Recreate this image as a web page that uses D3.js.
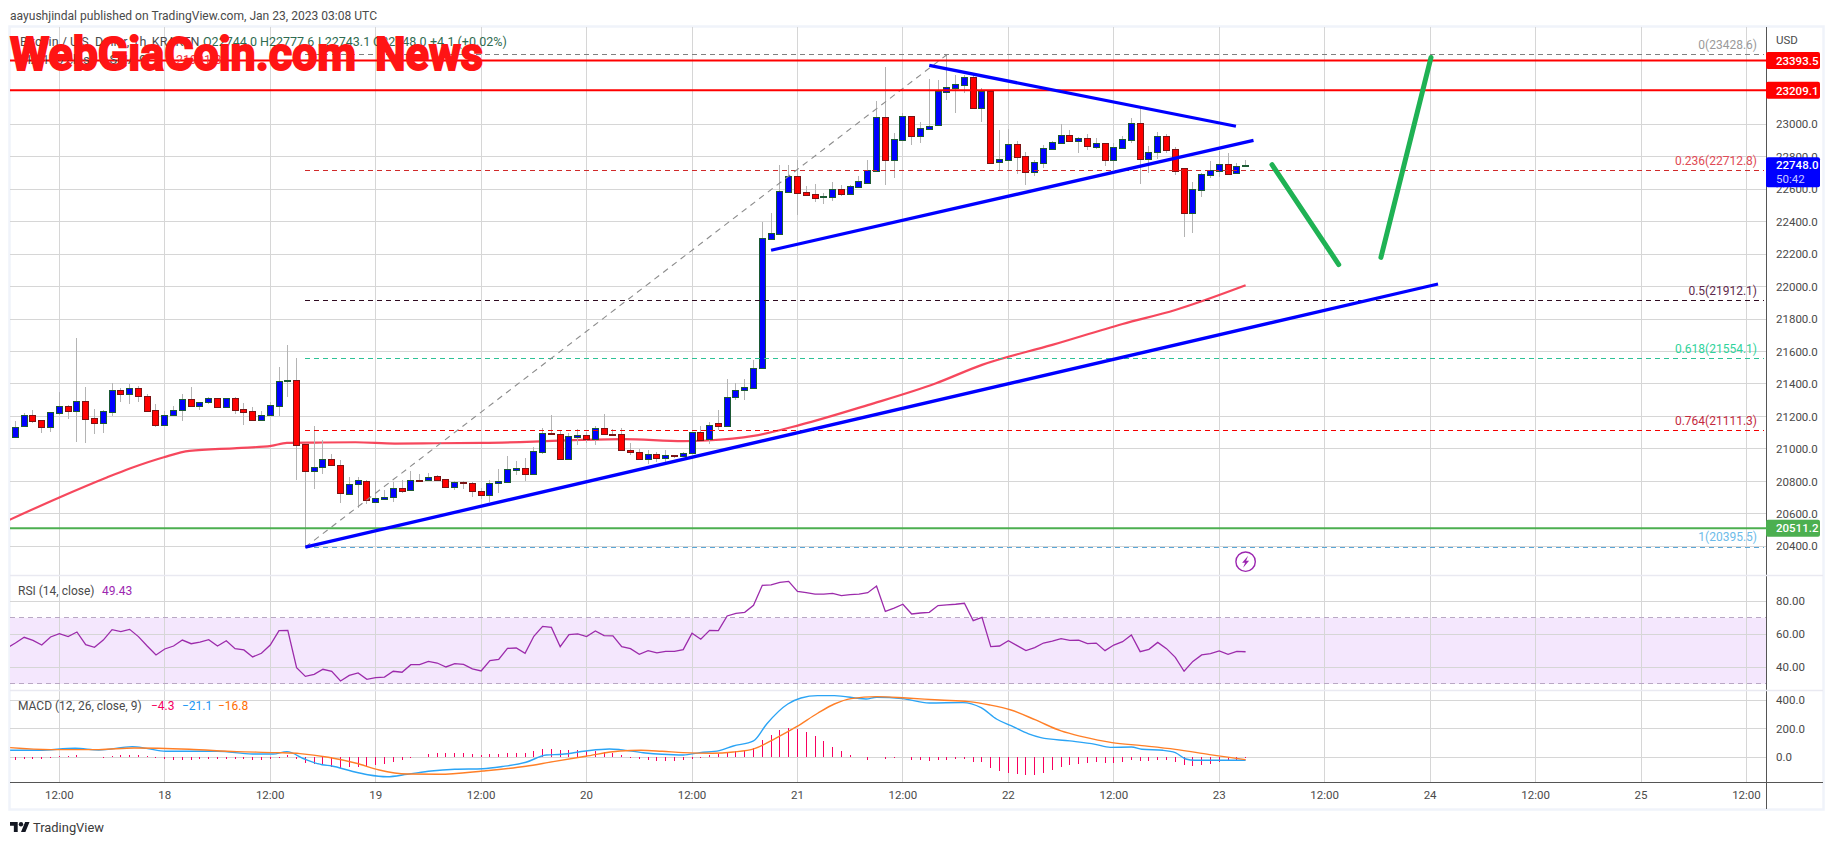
<!DOCTYPE html>
<html><head><meta charset="utf-8">
<script src="https://cdnjs.cloudflare.com/ajax/libs/d3/7.8.5/d3.min.js"></script>
<style>html,body{margin:0;padding:0;background:#fff;overflow:hidden}svg{display:block}text{font-family:Roboto,"Noto Sans",sans-serif}</style>
</head><body><svg id="c" width="1834" height="845"></svg>
<script>
// hourly candles: index 0 = Jan 17 07:00, index 140 = Jan 23 03:00
const opens=[21072,21140,21208,21177,21132,21224,21263,21236,21294,21189,21162,21230,21362,21341,21374,21325,21238,21150,21206,21242,21306,21267,21286,21312,21261,21312,21244,21232,21177,21206,21267,21417,21423,21029,20861,20887,20937,20900,20721,20783,20801,20672,20694,20701,20758,20746,20809,20807,20832,20813,20768,20795,20789,20740,20719,20787,20799,20873,20881,20844,20980,21097,21091,20935,21076,21085,21064,21128,21091,21091,20994,20980,20935,20968,20947,20963,20959,20972,21103,21060,21158,21144,21317,21360,21378,21497,22292,22327,22585,22680,22581,22569,22554,22554,22600,22573,22616,22641,22710,23043,22782,22905,23049,22930,22973,22998,23201,23226,23244,23291,23102,23205,22770,22782,22877,22803,22704,22760,22850,22887,22932,22899,22914,22862,22883,22782,22856,22905,23006,22788,22827,22926,22846,22729,22456,22597,22690,22715,22753,22702,22744];
const highs=[21173,21220,21240,21177,21230,21351,21271,21684,21382,21245,21240,21407,21374,21398,21388,21337,21275,21236,21265,21339,21382,21292,21320,21316,21316,21320,21284,21259,21236,21290,21503,21641,21561,21029,21142,21056,20969,20930,20830,20830,20807,20803,20748,20795,20807,20865,20846,20852,20840,20816,20805,20801,20795,20758,20809,20877,20957,20924,20945,21009,21130,21210,21113,21097,21124,21107,21142,21216,21124,21130,21037,21000,20996,20980,20996,20963,20980,21103,21142,21167,21241,21432,21407,21432,21549,22400,22454,22749,22749,22780,22620,22632,22575,22643,22624,22624,22684,22780,23143,23353,22946,23072,23053,23012,23277,23273,23428.6,23304,23304,23304,23221,23205,22965,22971,22895,22829,22780,22872,22895,23000,22965,22924,22940,22914,22887,22883,22928,23037,23098,22866,22953,22940,22858,22729,22645,22698,22774,22838,22821,22762,22777.6];
const lows=[21072,21138,21162,21101,21107,21210,21187,21045,21039,21089,21095,21203,21292,21279,21286,21226,21132,21146,21206,21175,21265,21242,21277,21257,21257,21218,21150,21173,21173,21203,21203,21320,20809,20395.5,20756,20848,20896,20664,20721,20635,20658,20670,20686,20670,20731,20744,20803,20803,20809,20762,20744,20754,20705,20690,20670,20731,20795,20838,20803,20840,20968,21085,20935,20933,21027,21035,21025,21089,21087,20996,20963,20933,20908,20918,20922,20943,20953,20968,21050,21033,21117,21142,21302,21302,21378,21497,22292,22327,22575,22441,22561,22524,22511,22528,22561,22571,22616,22641,22710,22626,22669,22905,22873,22887,22973,22998,23150,23072,23195,23102,23016,22760,22710,22718,22696,22628,22684,22733,22846,22887,22893,22825,22842,22846,22745,22718,22856,22887,22634,22702,22788,22825,22688,22308,22333,22554,22671,22677,22696,22702,22743.1];
const closes=[21138,21208,21175,21132,21226,21263,21236,21294,21187,21162,21232,21362,21341,21374,21323,21236,21150,21208,21238,21306,21267,21288,21312,21261,21312,21242,21230,21177,21208,21269,21417,21423,21023,20861,20887,20937,20900,20727,20783,20807,20684,20696,20703,20758,20738,20807,20805,20830,20811,20768,20795,20789,20738,20719,20789,20801,20875,20881,20844,20986,21097,21089,20935,21078,21087,21064,21128,21089,21087,20996,20984,20935,20968,20947,20961,20959,20974,21103,21056,21146,21144,21319,21362,21380,21497,22298,22329,22587,22680,22579,22567,22548,22558,22600,22573,22618,22649,22716,23043,22782,22907,23049,22930,22975,22987,23205,23228,23246,23291,23102,23205,22760,22784,22877,22801,22704,22766,22852,22889,22932,22899,22914,22864,22883,22782,22858,22907,23006,22788,22827,22926,22844,22714,22456,22600,22692,22717,22753,22696,22741,22748];

const priceTicks=[23000,22800,22600,22400,22200,22000,21800,21600,21400,21200,21000,20800,20600,20400];
const timeTickHours=[5,17,29,41,53,65,77,89,101,113,125,137,149,161,173,185,197];
const timeTickLabels=["12:00","18","12:00","19","12:00","20","12:00","21","12:00","22","12:00","23","12:00","24","12:00","25","12:00"];

const resistanceLevels=[23393.5,23209.1];
const supportLevel=20511.2;
const lastPrice=22748.0;
const fibRatios=["0","0.236","0.5","0.618","0.764","1"];
const fibPrices=[23428.6,22712.8,21912.1,21554.1,21111.3,20395.5];

const maHours=[-1,5,10.4,13.1,16.9,19.8,25.2,29.1,30.9,34.2,38.7,43.2,47.7,53.2,59,63.5,69.2,76,78.7,84,89.3,97,104.7,110,118,126,132,140];
const maValues=[20555,20701,20824,20881,20949,20988,21005,21019,21037,21039,21041,21033,21035,21037,21045,21054,21060,21048,21052,21080,21148,21270,21403,21518,21641,21770,21856,22008];

// [hour, price] ends of the drawn lines
const fibDiagonalHours=[33,106], fibDiagonalPrices=[20395.5,23428.6];
const longTrendHours=[33,161.9], longTrendPrices=[20395.5,22016];
const lowerTrendHours=[86,140.9], lowerTrendPrices=[22224,22901];
const upperTrendHours=[104,138.9], upperTrendPrices=[23363,22988];
const arrowDownHours=[143,150.6], arrowDownPrices=[22751,22136];
const arrowUpHours=[155.4,161.1], arrowUpPrices=[22180,23412];

// RSI: first value is the hour before the first candle
const rsiValues=[51.5,54.7,58.2,56.3,53.5,58.4,60.4,58.6,61.4,53.7,52.1,56.5,62.8,61.6,63.0,58.6,52.9,47.5,51.1,52.9,56.5,54.3,55.3,56.7,52.9,56.1,51.3,50.5,46.3,48.5,53.5,62.2,62.4,39.8,34.5,35.7,38.8,37.6,31.7,35.1,36.6,32.7,33.7,34.1,37.6,37.0,41.6,41.6,43.6,42.6,40.2,42.2,41.8,39.0,37.8,44.0,44.8,51.5,51.7,48.5,58.8,64.8,64.2,52.5,59.8,60.2,58.6,62.0,59.2,59.0,52.5,51.3,47.9,50.1,48.7,49.7,49.7,50.7,60.6,57.0,62.4,62.2,71.1,72.7,73.3,77.6,89.7,89.9,91.5,92.1,86.0,85.2,84.4,84.4,84.8,83.4,84.0,84.4,85.2,89.3,73.9,75.9,78.2,72.3,72.9,73.3,77.4,77.8,78.2,78.8,68.3,70.3,52.5,52.9,56.1,53.1,50.1,51.9,54.7,55.9,57.4,56.3,56.5,54.3,54.7,50.1,53.5,55.5,59.6,49.5,50.9,55.1,51.3,46.0,37.6,43.6,47.5,48.3,49.9,47.9,49.7,49.43];
const rsiTicks=[80,60,40];
const rsiBand=[70,30];

const histValues=[-19,-9,-9,-12,-2,12,9,16,5,2,-2,9,16,16,16,9,-7,-12,-19,-19,-19,-12,-12,-9,-9,-12,-14,-19,-19,-14,-2,16,-9,-37,-49,-56,-65,-75,-70,-68,-61,-54,-47,-33,-19,-2,5,26,30,30,30,28,23,14,21,23,30,30,30,44,58,58,51,49,49,47,42,40,33,14,-5,-12,-19,-26,-26,-26,-19,-12,-2,16,23,37,42,47,63,122,157,192,204,197,178,152,115,70,44,16,2,-19,2,-9,-2,1,-19,-19,-26,-19,-19,-14,-12,-33,-33,-75,-96,-112,-115,-124,-124,-108,-89,-65,-51,-44,-42,-33,-42,-40,-33,-19,-26,-28,-19,-19,-33,-51,-61,-51,-44,-35,-26,-19,-4.3];
const macdHours=[-0.6,2.7,6.8,9.5,13.3,14.9,17.1,23,27,29.3,30.9,32.9,34.9,36,38.3,40.1,42.3,44.6,47.3,50,53.2,55.4,58.1,60.4,62.2,64.9,67.6,68.8,71.7,73.6,76,77.9,80.1,81.7,84,85.5,87.9,89.4,91.3,93.2,96.8,98,100.9,104,107.8,109.9,111.7,113.3,115.3,116.7,120,122.9,124.6,127,128.2,130.6,132,133.2,134.2,137.3,140];
const macdValues=[49,49,63,51,75,63,42,42,23,23,40,-12,-52,-61,-98,-122,-136,-119,-96,-84,-80,-65,-35,16,21,44,58,54,30,21,16,33,47,79,115,234,374,416,433,433,409,421,412,381,384,348,267,222,164,138,115,91,70,72,56,49,33,-12,-21,-21,-21.1];
const signalHours=[-0.6,4,9.5,13.5,19.8,25.2,29.7,32.4,35.6,38.8,41.4,44.6,48.2,53.2,58.1,61.2,64.9,68.8,71.2,73.6,76,79.3,81.7,84.1,86.5,88.9,91.3,93.2,95.1,98,101.4,105.2,108.5,110.9,113.3,116.1,119,121.4,124.8,128.2,132,135.9,140];
const signalValues=[68,54,54,65,56,40,33,26,0,-42,-89,-117,-119,-96,-63,-30,7,44,49,42,33,28,37,61,133,215,309,374,412,426,416,402,391,367,332,262,185,145,103,82,56,19,-16.8];
const macdTicks=[400,200,0];

const svg=d3.select("#c");
const L=10,AX=1766,RIGHT=1823,TOP=27,MAIN_B=575,RSI_B=690,MACD_B=782,BOT=809;
const C={grid:"#d6d6d6",band:"#f0f3fa",text:"#4a4a4a",up:"#0000ff",upB:"#1c5a34",dn:"#ff0000",dnB:"#7a1414",wick:"#b4b4b4"};

const x=d3.scaleLinear().domain([0,140]).range([15.4,1245.6]);
const yP=d3.scaleLinear().domain([23000,20400]).range([124.3,546.3]);
const yR=d3.scaleLinear().domain([80,40]).range([601.3,667.3]);
const yM=d3.scaleLinear().domain([400,0]).range([700.3,757.3]);
const snap=v=>Math.round(v-0.5)+0.5;

svg.append("rect").attr("width",1834).attr("height",845).attr("fill","#fff");
// frame
svg.append("rect").attr("x",9.5).attr("y",26.5).attr("width",1814).attr("height",783).attr("fill","none").attr("stroke",C.band).attr("stroke-width",2.5);

// RSI band
svg.append("rect").attr("x",L).attr("y",yR(rsiBand[0])).attr("width",AX-L).attr("height",yR(rsiBand[1])-yR(rsiBand[0])).attr("fill","#f4e7fd");

// grids
const grid=svg.append("g").attr("stroke",C.grid).attr("stroke-width",1).attr("shape-rendering","crispEdges");
grid.selectAll(".v").data(timeTickHours).join("line").attr("x1",d=>snap(x(d))).attr("x2",d=>snap(x(d))).attr("y1",TOP).attr("y2",MACD_B);
const hline=(sel,ticks,sc)=>sel.append("g").selectAll("line").data(ticks).join("line").attr("x1",L).attr("x2",AX).attr("y1",d=>snap(sc(d))).attr("y2",d=>snap(sc(d)));
hline(grid,priceTicks,yP);hline(grid,rsiTicks,yR);hline(grid,macdTicks,yM);

// plot clip
svg.append("clipPath").attr("id","pl").append("rect").attr("x",L).attr("y",TOP).attr("width",AX-L).attr("height",MACD_B-TOP);

const plot=svg.append("g").attr("clip-path","url(#pl)");
const idx=d3.range(opens.length);
const lineOf=(xs,ys,sc,curve)=>d3.line().x((d,i)=>x(xs[i])).y((d,i)=>sc(ys[i])).curve(curve||d3.curveLinear)(xs);

// MA
plot.append("path").attr("d",lineOf(maHours,maValues,yP,d3.curveMonotoneX)).attr("fill","none").attr("stroke","#f5384f").attr("stroke-width",2.2).attr("stroke-opacity",.92);

// candles
const cg=plot.append("g");
cg.append("g").attr("stroke",C.wick).attr("stroke-width",1).attr("shape-rendering","crispEdges").selectAll("line").data(idx).join("line")
 .attr("x1",i=>snap(x(i))).attr("x2",i=>snap(x(i))).attr("y1",i=>yP(highs[i])).attr("y2",i=>yP(lows[i]));
cg.append("g").attr("shape-rendering","crispEdges").selectAll("rect").data(idx).join("rect")
 .attr("x",i=>Math.round(x(i)-0.5)-3+0.5).attr("width",6)
 .attr("y",i=>Math.round(yP(Math.max(opens[i],closes[i])))+0.5)
 .attr("height",i=>Math.max(1,Math.round(yP(Math.min(opens[i],closes[i])))-Math.round(yP(Math.max(opens[i],closes[i])))))
 .attr("fill",i=>closes[i]>=opens[i]?C.up:C.dn)
 .attr("stroke",i=>closes[i]>=opens[i]?C.upB:C.dnB).attr("stroke-width",1);

// fib levels
const fibLine=["#808080","#d02a2a","#2f0a20","#2ec296","#f40000","#5ba6d6"];
const fibText=["#9a9a9a","#e04a54","#5f2a4c","#2fd39b","#c42a3e","#6dbbe9"];
const FX1=33,FX2=199;
plot.append("g").selectAll("line").data(fibPrices).join("line").attr("x1",x(FX1)).attr("x2",x(FX2))
 .attr("y1",d=>snap(yP(d))).attr("y2",d=>snap(yP(d))).attr("stroke",(d,i)=>fibLine[i]).attr("stroke-width",1).attr("stroke-dasharray","5 4").attr("shape-rendering","crispEdges");
plot.append("path").attr("d",lineOf(fibDiagonalHours,fibDiagonalPrices,yP)).attr("fill","none").attr("stroke","#8c8c8c").attr("stroke-width",1.1).attr("stroke-dasharray","6 5");
svg.append("g").selectAll("text").data(fibPrices).join("text").attr("x",1757).attr("y",d=>yP(d)-6).attr("text-anchor","end")
 .attr("font-size",12).attr("fill",(d,i)=>fibText[i]).text((d,i)=>`${fibRatios[i]}(${d.toFixed(1)})`);

// horizontal levels
plot.append("g").selectAll("line").data(resistanceLevels).join("line").attr("x1",L).attr("x2",AX).attr("y1",d=>yP(d)).attr("y2",d=>yP(d)).attr("stroke","#ff0000").attr("stroke-width",2);
plot.append("line").attr("x1",L).attr("x2",AX).attr("y1",yP(supportLevel)).attr("y2",yP(supportLevel)).attr("stroke","#4caf50").attr("stroke-width",2);

// trend lines
[[longTrendHours,longTrendPrices],[lowerTrendHours,lowerTrendPrices],[upperTrendHours,upperTrendPrices]].forEach(([h,p])=>
 plot.append("path").attr("d",lineOf(h,p,yP)).attr("fill","none").attr("stroke","#0000ff").attr("stroke-width",3.3));
[[arrowDownHours,arrowDownPrices],[arrowUpHours,arrowUpPrices]].forEach(([h,p])=>
 plot.append("path").attr("d",lineOf(h,p,yP)).attr("fill","none").attr("stroke","#1fb254").attr("stroke-width",5).attr("stroke-linecap","round"));

// lightning icon
const ic=svg.append("g").attr("transform",`translate(${x(140)},${yP(20305)})`);
ic.append("circle").attr("r",9.7).attr("fill","#fff").attr("stroke","#9c27b0").attr("stroke-width",1.4);
ic.append("path").attr("d","M2.5,-6 L-3.5,1 L-0.5,1 L-2.5,6 L3.5,-1 L0.5,-1 Z").attr("fill","#9c27b0");

// RSI pane
plot.append("g").selectAll("line").data(rsiBand).join("line").attr("x1",L).attr("x2",AX).attr("y1",d=>snap(yR(d))).attr("y2",d=>snap(yR(d)))
 .attr("stroke","#b9a8c4").attr("stroke-width",1).attr("stroke-dasharray","5 4").attr("shape-rendering","crispEdges");
plot.append("path").attr("d",d3.line().x((d,i)=>x(i-1)).y(d=>yR(d))(rsiValues)).attr("fill","none").attr("stroke","#9c2bab").attr("stroke-width",1.3);

// MACD pane
plot.append("g").attr("stroke","#f8005f").attr("stroke-width",1).attr("shape-rendering","crispEdges").selectAll("line").data(histValues).join("line")
 .attr("x1",(d,i)=>snap(x(i))).attr("x2",(d,i)=>snap(x(i))).attr("y1",yM(0)).attr("y2",d=>yM(d));
plot.append("path").attr("d",lineOf(macdHours,macdValues,yM,d3.curveMonotoneX)).attr("fill","none").attr("stroke","#2ba4f5").attr("stroke-width",1.4);
plot.append("path").attr("d",lineOf(signalHours,signalValues,yM,d3.curveMonotoneX)).attr("fill","none").attr("stroke","#ff7f27").attr("stroke-width",1.4);

// axes lines
svg.append("line").attr("x1",snap(AX)).attr("x2",snap(AX)).attr("y1",TOP).attr("y2",BOT).attr("stroke","#555").attr("shape-rendering","crispEdges");
svg.append("line").attr("x1",L).attr("x2",RIGHT).attr("y1",MACD_B).attr("y2",MACD_B).attr("stroke","#555").attr("shape-rendering","crispEdges");
[MAIN_B,RSI_B].forEach(v=>svg.append("line").attr("x1",L).attr("x2",RIGHT).attr("y1",v+.5).attr("y2",v+.5).attr("stroke","#e9e9f1").attr("stroke-width",1.4));

// axis labels
const labX=1776;
const axisText=(ticks,sc,fmt)=>svg.append("g").selectAll("text").data(ticks).join("text").attr("x",labX).attr("y",d=>sc(d)).attr("dy","0.36em").attr("font-size",11.5).attr("fill",C.text).text(fmt);
axisText(priceTicks,yP,d=>d.toFixed(1));
axisText(rsiTicks,yR,d=>d.toFixed(2));
axisText(macdTicks,yM,d=>d.toFixed(1));
svg.append("text").attr("x",labX).attr("y",40).attr("dy","0.36em").attr("font-size",11.5).attr("fill",C.text).text("USD");
svg.append("g").selectAll("text").data(timeTickHours).join("text").attr("x",d=>x(d)).attr("y",795).attr("dy","0.36em").attr("text-anchor","middle").attr("font-size",11.5).attr("fill",C.text).text((d,i)=>timeTickLabels[i]);

// price tags
const tag=(p,color)=>{const yc=yP(p);
 svg.append("rect").attr("x",AX).attr("y",yc-8.5).attr("width",54).attr("height",17).attr("rx",2).attr("fill",color);
 svg.append("text").attr("x",labX).attr("y",yc).attr("dy","0.36em").attr("font-size",11.5).attr("font-weight",500).attr("fill","#fff").text(p.toFixed(1));};
tag(resistanceLevels[0],"#ff0000");tag(resistanceLevels[1],"#ff0000");tag(supportLevel,"#4caf50");
const ly=yP(lastPrice);
svg.append("rect").attr("x",AX).attr("y",ly-8).attr("width",54).attr("height",30).attr("rx",2).attr("fill","#0000ff");
svg.append("text").attr("x",labX).attr("y",ly).attr("dy","0.36em").attr("font-size",11.5).attr("font-weight",500).attr("fill","#fff").text(lastPrice.toFixed(1));
svg.append("text").attr("x",labX).attr("y",ly+14).attr("dy","0.36em").attr("font-size",11.5).attr("fill","#c9c9ff").text("50:42");

// header & footer
svg.append("text").attr("x",10).attr("y",15).attr("dy","0.36em").attr("font-size",12.5).attr("fill","#4a4a4a").attr("textLength",367).attr("lengthAdjust","spacingAndGlyphs").text("aayushjindal published on TradingView.com, Jan 23, 2023 03:08 UTC");
svg.append("path").attr("transform","translate(10,819.8) scale(.55)").attr("d","M14 22H7V11H0V4h14v18zM28 22h-8l7.5-18h8L28 22z").attr("fill","#131722");
svg.append("circle").attr("transform","translate(10,819.8) scale(.55)").attr("cx",20).attr("cy",8).attr("r",4).attr("fill","#131722");
svg.append("text").attr("x",33).attr("y",827).attr("dy","0.36em").attr("font-size",13.5).attr("fill","#3a3a3a").attr("textLength",71).attr("lengthAdjust","spacingAndGlyphs").text("TradingView");

// legends
const t=(xx,yy,s,col,fs)=>svg.append("text").attr("x",xx).attr("y",yy).attr("dy","0.36em").attr("font-size",fs||12).attr("fill",col).text(s);
t(20,41,"Bitcoin / U.S. Dollar, 1h, KRAKEN","#4a4a4a",12.5);
t(203,41,"O22744.0","#2f6b50",12.5);t(260,41,"H22777.6","#2f6b50",12.5);t(318,41,"L22743.1","#2f6b50",12.5);t(373,41,"C22748.0","#2f6b50",12.5);t(430,41,"+4.1 (+0.02%)","#2f6b50",12.5);
t(20,59,"MA 100 close 0 SMA 9","#4a4a4a",12.5);t(176,59,"21991.8","#f23645",12.5);
t(18,591,"RSI (14, close)",C.text);t(102,591,"49.43","#9c27b0");
t(18,706,"MACD (12, 26, close, 9)",C.text);t(151,706,"−4.3","#f5005f");t(182,706,"−21.1","#2196f3");t(218,706,"−16.8","#ff6d00");

// watermark
const wm=(xx,w,s)=>svg.append("text").attr("x",xx).attr("y",70).attr("font-family","'DejaVu Serif'").attr("font-weight",700).attr("font-size",46).attr("fill","#ff1414").attr("stroke","#ff1414").attr("stroke-width",2)
 .attr("textLength",w).attr("lengthAdjust","spacingAndGlyphs").text(s);
wm(10,346,"WebGiaCoin.com");wm(375,108,"News");
</script></body></html>
